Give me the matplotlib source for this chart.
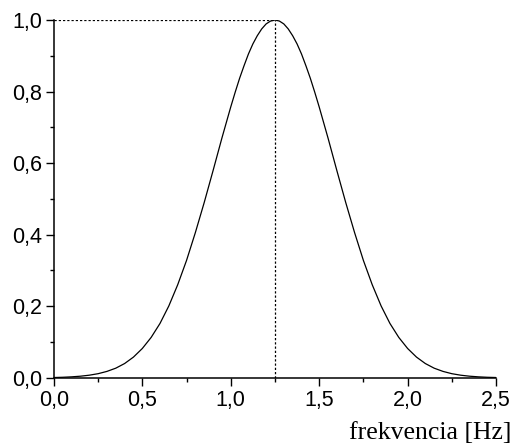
"""Gaussian-shaped frequency response peaking at 1.25 Hz, with dotted guides
marking the maximum.

Writes:
    out.png
"""
import matplotlib
matplotlib.use("Agg")
import matplotlib.pyplot as plt
from matplotlib.ticker import MultipleLocator


# Values.
FREQ = [
    0.00, 0.05, 0.10, 0.15, 0.20, 0.25, 0.30, 0.35, 0.40, 0.45,
    0.50, 0.55, 0.60, 0.65, 0.70, 0.75, 0.80, 0.85, 0.90, 0.95,
    1.00, 1.025, 1.05, 1.075, 1.10, 1.125, 1.15, 1.175, 1.20, 1.225,
    1.25,
    1.275, 1.30, 1.325, 1.35, 1.375, 1.40, 1.425, 1.45, 1.475, 1.50,
    1.55, 1.60, 1.65, 1.70, 1.75, 1.80, 1.85, 1.90, 1.95, 2.00,
    2.05, 2.10, 2.15, 2.20, 2.25, 2.30, 2.35, 2.40, 2.45, 2.50,
]
AMPLITUDE = [
    0.0009, 0.0016, 0.0028, 0.0046, 0.0074, 0.0116, 0.018, 0.027, 0.040, 0.058,
    0.082, 0.113, 0.152, 0.201, 0.260, 0.328, 0.406, 0.490, 0.579, 0.670,
    0.757, 0.798, 0.837, 0.872, 0.905, 0.933, 0.956, 0.975, 0.989, 0.997,
    1.000,
    0.997, 0.989, 0.975, 0.956, 0.933, 0.905, 0.872, 0.837, 0.798, 0.757,
    0.670, 0.579, 0.490, 0.406, 0.328, 0.260, 0.201, 0.152, 0.113, 0.082,
    0.058, 0.040, 0.027, 0.018, 0.0116, 0.0074, 0.0046, 0.0028, 0.0016, 0.0009,
]
PEAK_FREQ = 1.25
PEAK_VALUE = 1.0

X_TICKS = [0.0, 0.5, 1.0, 1.5, 2.0, 2.5]
X_TICK_LABELS = ["0,0", "0,5", "1,0", "1,5", "2,0", "2,5"]
Y_TICKS = [0.0, 0.2, 0.4, 0.6, 0.8, 1.0]
Y_TICK_LABELS = ["0,0", "0,2", "0,4", "0,6", "0,8", "1,0"]
X_LABEL = "frekvencia [Hz]"


def plot() -> None:
    fig = plt.figure(figsize=(5.13, 4.44), dpi=100)
    ax = fig.add_axes([0.105, 0.149, 0.862, 0.806])

    ax.plot(FREQ, AMPLITUDE, color="black", linewidth=0.9)

    # dotted guides to the maximum
    guide = dict(color="black", linewidth=0.9, linestyle=(0, (1.8, 1.6)))
    ax.plot([0.0, PEAK_FREQ], [PEAK_VALUE, PEAK_VALUE], **guide)
    ax.plot([PEAK_FREQ, PEAK_FREQ], [0.0, PEAK_VALUE], **guide)

    ax.set_xlim(0.0, 2.5)
    ax.set_ylim(0.0, 1.0)
    for side in ("top", "right"):
        ax.spines[side].set_visible(False)
    for side in ("left", "bottom"):
        ax.spines[side].set_linewidth(1.1)

    ax.set_xticks(X_TICKS)
    ax.set_xticklabels(X_TICK_LABELS)
    ax.set_yticks(Y_TICKS)
    ax.set_yticklabels(Y_TICK_LABELS)
    ax.xaxis.set_minor_locator(MultipleLocator(0.25))
    ax.yaxis.set_minor_locator(MultipleLocator(0.1))
    ax.tick_params(which="major", direction="out", length=5.5, width=1.0,
                   labelsize=15.5, pad=3)
    ax.tick_params(which="minor", direction="out", length=3.0, width=1.0)
    for lbl in ax.get_xticklabels() + ax.get_yticklabels():
        lbl.set_fontfamily("Liberation Sans")

    fig.text(511 / 513, 1 - 438.5 / 444, X_LABEL, ha="right", va="baseline",
             fontsize=18.5, family="Liberation Serif")

    fig.savefig("out.png", dpi=100)


if __name__ == "__main__":
    plot()
